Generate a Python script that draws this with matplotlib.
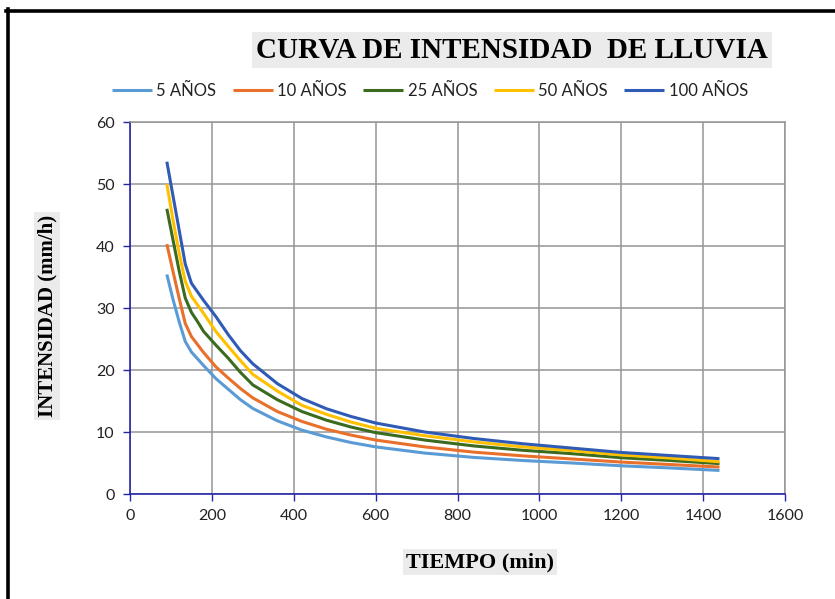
import matplotlib
matplotlib.use('Agg')
import matplotlib.pyplot as plt
from matplotlib.lines import Line2D

# duraciones (min) y curvas IDF
tiempo = [90, 105, 120, 135, 150, 165, 180, 210, 240, 270, 300, 360, 420, 480, 540, 600,
          720, 840, 960, 1080, 1200, 1320, 1440]
i_5 = [35.4, 31.4, 27.8, 24.6, 22.9, 21.8, 20.7, 18.6, 16.9, 15.2, 13.8, 11.8, 10.3, 9.2,
       8.3, 7.6, 6.6, 5.9, 5.4, 5.0, 4.55, 4.2, 3.8]
i_10 = [40.3, 35.9, 31.6, 27.5, 25.4, 24.1, 22.8, 20.5, 18.7, 17.0, 15.5, 13.3, 11.7, 10.45,
        9.5, 8.7, 7.6, 6.75, 6.15, 5.65, 5.15, 4.75, 4.35]
i_25 = [46.0, 41.0, 36.0, 31.6, 29.3, 27.8, 26.2, 24.0, 21.9, 19.6, 17.6, 15.2, 13.3, 11.9,
        10.8, 9.9, 8.7, 7.75, 7.05, 6.5, 5.85, 5.4, 4.9]
i_50 = [50.0, 44.2, 38.9, 34.3, 31.9, 30.5, 29.1, 26.2, 23.8, 21.5, 19.3, 16.6, 14.3, 12.85,
        11.6, 10.6, 9.4, 8.4, 7.6, 7.0, 6.3, 5.8, 5.2]
i_100 = [53.6, 48.1, 42.6, 37.1, 34.0, 32.6, 31.2, 28.6, 25.7, 23.1, 21.0, 17.8, 15.4, 13.75,
         12.5, 11.45, 10.0, 8.95, 8.1, 7.4, 6.7, 6.2, 5.7]

series = [
    ('5 AÑOS', i_5, '#5B9BD5'),
    ('10 AÑOS', i_10, '#E8702A'),
    ('25 AÑOS', i_25, '#3B6B1F'),
    ('50 AÑOS', i_50, '#FFC000'),
    ('100 AÑOS', i_100, '#2F5BB5'),
]

W, H = 835, 599
fig = plt.figure(figsize=(W / 100, H / 100), dpi=100)
ax = fig.add_axes([130 / W, 1 - 494 / H, 655 / W, 372 / H])

for name, vals, col in series:
    ax.plot(tiempo, vals, color=col, lw=2.2, label=name, solid_capstyle='butt',
            solid_joinstyle='round')

ax.set_xlim(0, 1600)
ax.set_ylim(0, 60)
ax.set_xticks(range(0, 1601, 200))
ax.set_yticks(range(0, 61, 10))
ax.grid(True, color='#959595', lw=1.1)
ax.set_axisbelow(True)

navy = '#2424a8'
for s in ['left', 'bottom']:
    ax.spines[s].set_color(navy)
    ax.spines[s].set_linewidth(1.2)
for s in ['top', 'right']:
    ax.spines[s].set_color('#959595')
    ax.spines[s].set_linewidth(1.1)
ax.tick_params(axis='both', direction='out', length=5, width=1.0, color=navy,
               labelsize=11.5, pad=6)
for lab in ax.get_xticklabels() + ax.get_yticklabels():
    lab.set_fontfamily('Lato')
    lab.set_color('#222222')

bg = dict(boxstyle='square,pad=0.15', facecolor='#ebebeb', edgecolor='none')
fig.text(512 / W, 1 - 50 / H, 'CURVA DE INTENSIDAD  DE LLUVIA', family='Liberation Serif',
         weight='bold', fontsize=21, ha='center', va='center', bbox=bg)
fig.text(480 / W, 1 - 562 / H, 'TIEMPO (min)', family='Liberation Serif',
         weight='bold', fontsize=16, ha='center', va='center', bbox=bg)
fig.text(47 / W, 1 - 316 / H, 'INTENSIDAD (mm/h)', family='Liberation Serif',
         weight='bold', fontsize=15, ha='center', va='center', rotation=90, bbox=bg)

leg = fig.legend(loc='center', bbox_to_anchor=(430 / W, 1 - 91 / H), ncol=5,
                 frameon=False, prop={'family': 'Lato', 'size': 12},
                 handlelength=2.4, handletextpad=0.25, columnspacing=1.0)
for t in leg.get_texts():
    t.set_color('#222222')

# marco de la figura
fig.add_artist(Line2D([6 / W, 1], [1 - 10.5 / H, 1 - 10.5 / H], color='black', lw=2.6,
                      transform=fig.transFigure))
fig.add_artist(Line2D([7.5 / W, 7.5 / W], [0, 1 - 9 / H], color='black', lw=2.6,
                      transform=fig.transFigure))

fig.savefig('out.png', dpi=100)
